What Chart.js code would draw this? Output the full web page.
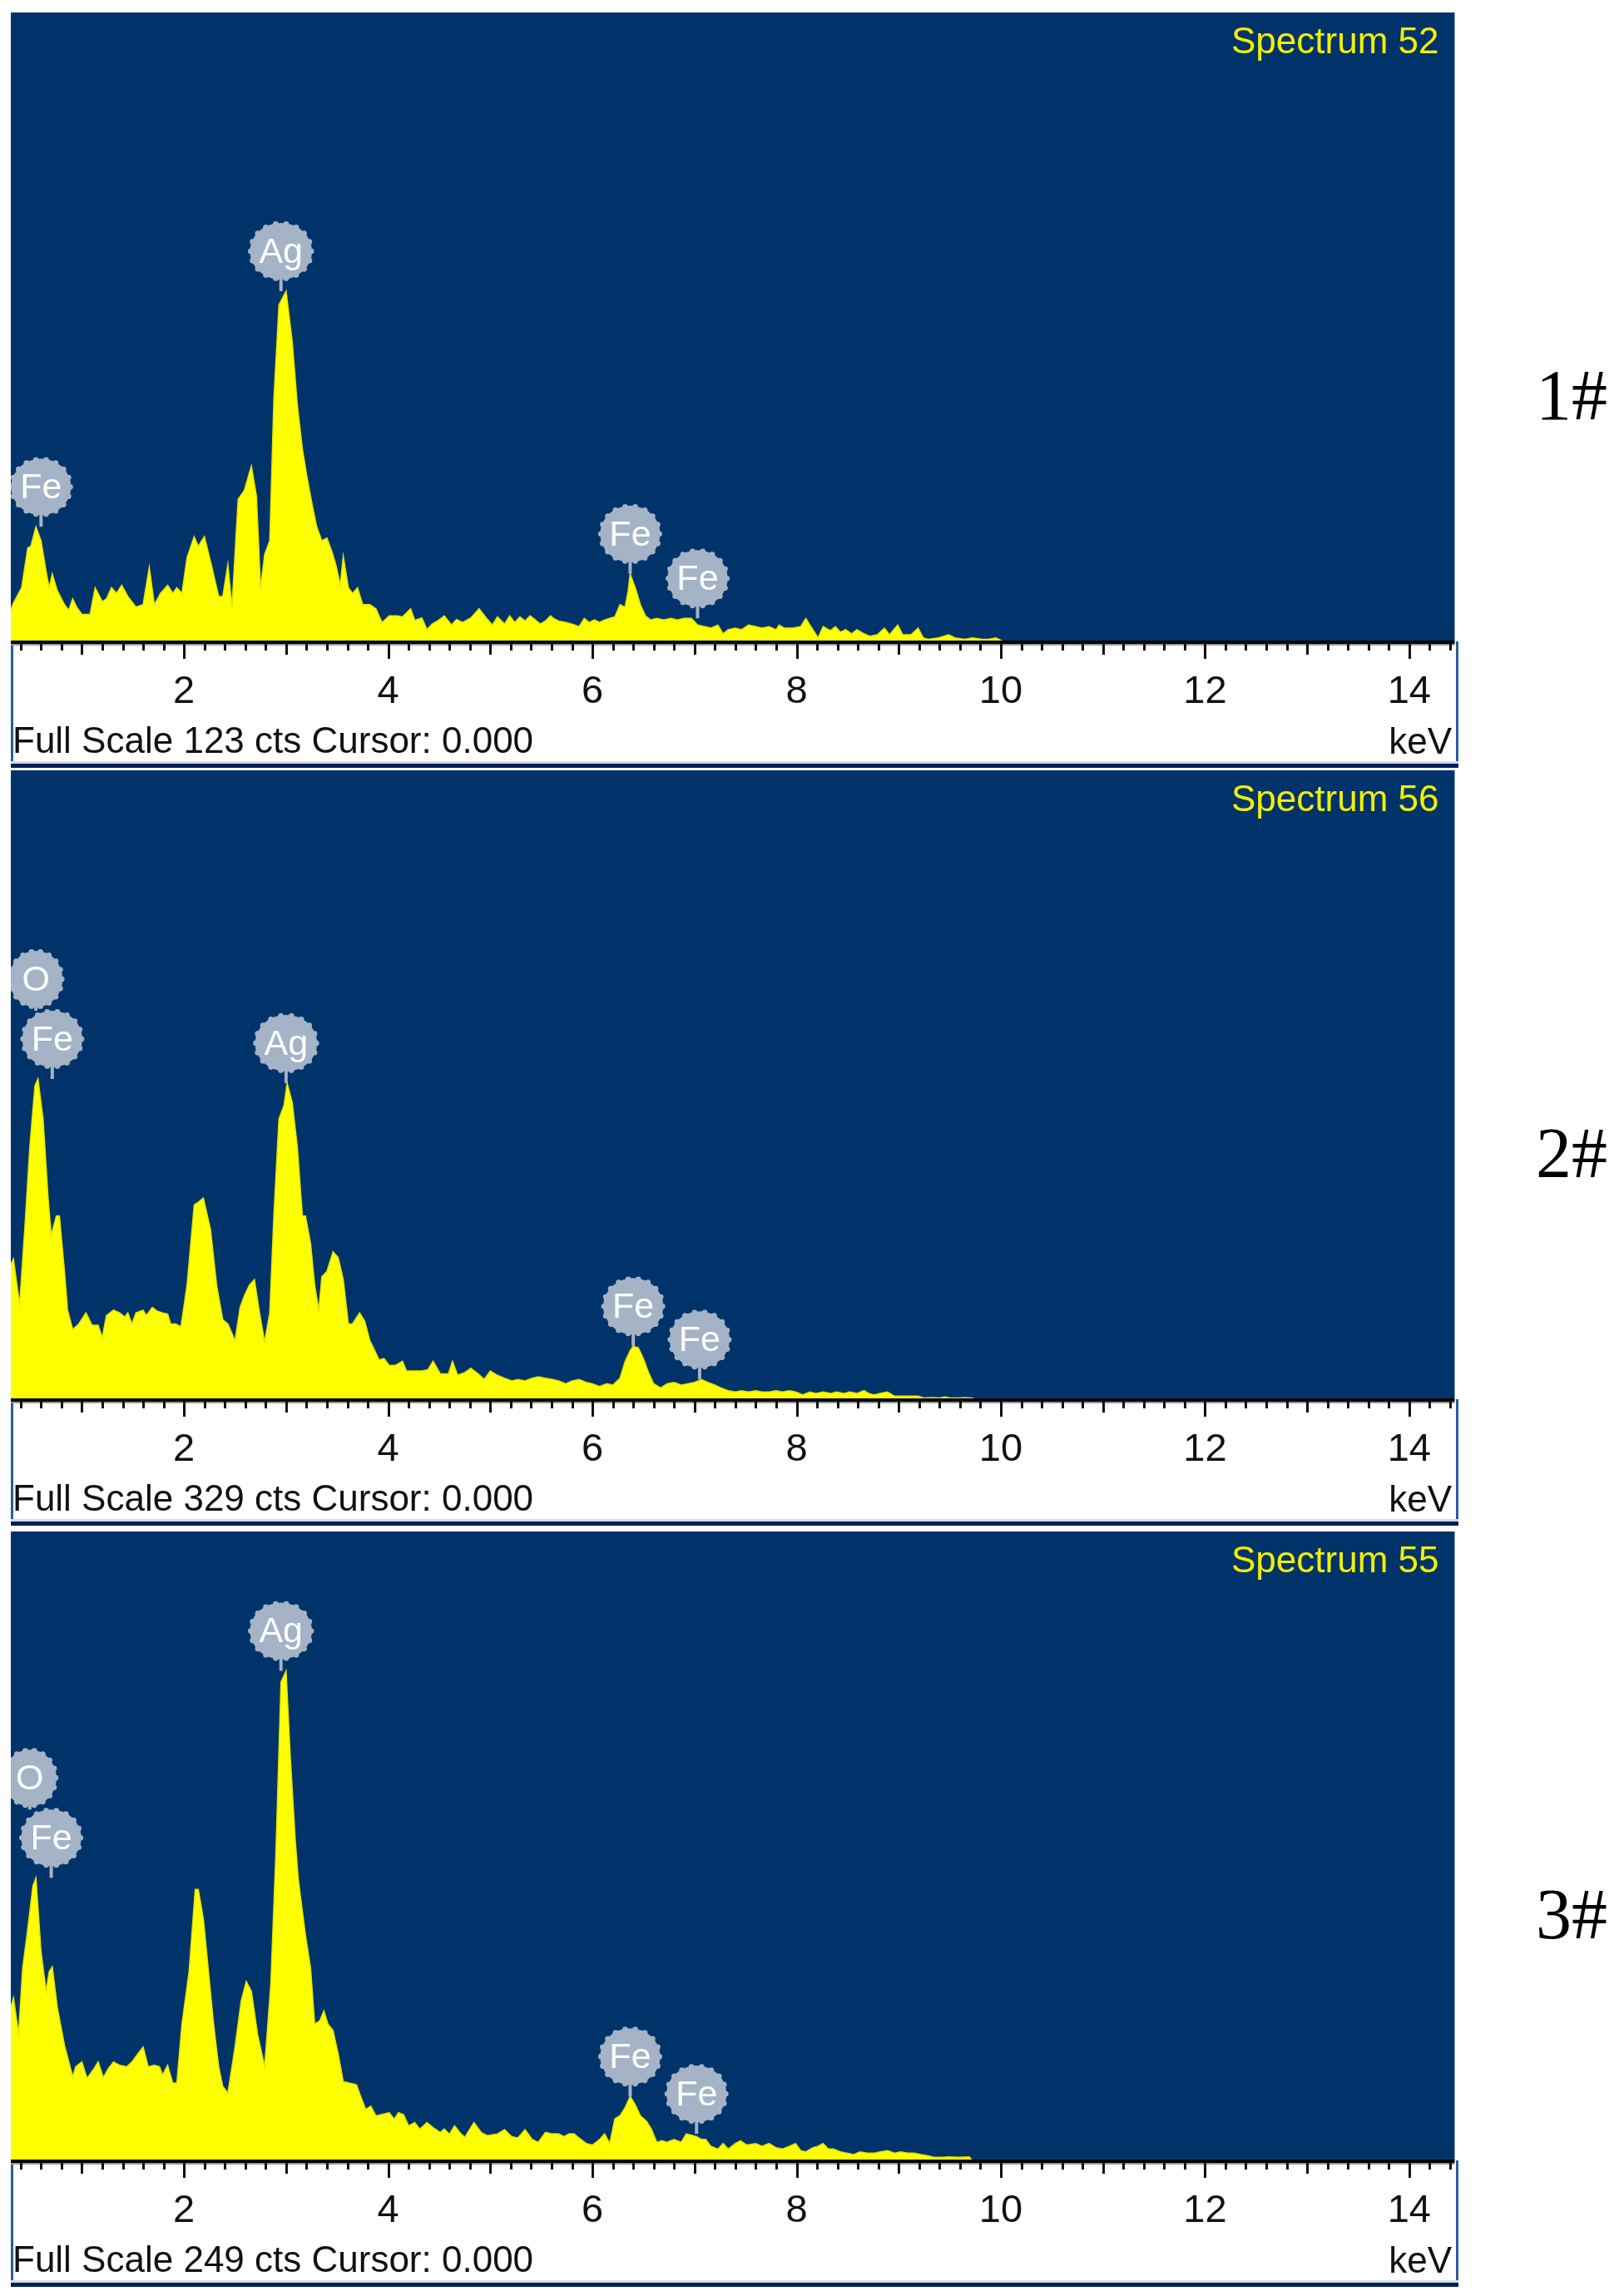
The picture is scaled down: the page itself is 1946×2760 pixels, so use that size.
<!DOCTYPE html>
<html>
<head>
<meta charset="utf-8">
<script src="https://cdn.jsdelivr.net/npm/chart.js@4.4.1/dist/chart.umd.min.js"></script>
<style>
  html, body { margin: 0; padding: 0; background: #ffffff; }
  body { width: 1946px; height: 2760px; position: relative; overflow: hidden; }
  .panel { position: absolute; left: 13px; width: 1740px; height: 908px; }
  .panel canvas { display: block; }
  .tag { position: absolute; left: 1846px; font-family: "Liberation Serif", "Times New Roman", serif; font-size: 86px; line-height: 86px; color: #000; white-space: nowrap; }
</style>
</head>
<body>
<div class="panel" style="top:15px"><canvas id="c1" width="1740" height="908"></canvas></div>
<div class="panel" style="top:926px"><canvas id="c2" width="1740" height="908"></canvas></div>
<div class="panel" style="top:1841px"><canvas id="c3" width="1740" height="908"></canvas></div>
<div class="tag" style="top:432px">1#</div>
<div class="tag" style="top:1343px">2#</div>
<div class="tag" style="top:2258px">3#</div>
<script>
// ---------------- data ----------------
const spectrumNames = ['Spectrum 52', 'Spectrum 56', 'Spectrum 55'];
const fullScaleCounts = [123, 329, 249];
const xTickLabels = [2, 4, 6, 8, 10, 12, 14];
const energyRange = [0.304, 14.445];

const energy52 = [0.30,0.33,0.41,0.47,0.50,0.55,0.60,0.65,0.68,0.71,0.76,0.83,0.87,0.91,0.95,1.00,1.08,1.13,1.20,1.24,1.29,1.34,1.39,1.45,1.53,1.60,1.66,1.71,1.77,1.84,1.89,1.93,1.98,2.03,2.10,2.14,2.20,2.27,2.34,2.38,2.43,2.47,2.53,2.59,2.66,2.71,2.75,2.79,2.84,2.88,2.93,3.00,3.06,3.11,3.16,3.20,3.25,3.30,3.35,3.40,3.45,3.49,3.53,3.56,3.61,3.65,3.70,3.75,3.82,3.88,3.94,4.01,4.09,4.14,4.22,4.26,4.33,4.38,4.43,4.49,4.55,4.62,4.67,4.73,4.81,4.89,4.96,5.02,5.07,5.14,5.19,5.24,5.29,5.34,5.39,5.44,5.49,5.54,5.59,5.62,5.67,5.74,5.80,5.87,5.92,5.97,6.02,6.07,6.12,6.17,6.22,6.27,6.32,6.35,6.37,6.42,6.47,6.52,6.57,6.63,6.70,6.77,6.83,6.90,6.97,7.03,7.10,7.16,7.23,7.28,7.33,7.40,7.46,7.53,7.60,7.66,7.73,7.80,7.83,7.88,7.96,8.04,8.09,8.14,8.21,8.26,8.33,8.38,8.43,8.48,8.54,8.59,8.66,8.72,8.79,8.86,8.91,8.99,9.04,9.12,9.19,9.24,9.29,9.39,9.49,9.55,9.65,9.72,9.82,9.88,9.95,9.98,10.02,14.45];
const counts52 = [6.0,7.5,10.5,18.3,18.6,22.4,19.7,13.7,10.5,13.2,9.9,7.2,6.1,8.3,6.7,5.3,5.3,10.5,7.8,8.3,10.5,9.4,11.0,8.8,6.7,7.2,14.5,7.2,9.4,11.0,9.4,10.5,9.4,16.4,20.5,18.6,20.5,14.8,8.8,8.8,15.1,6.7,27.8,29.5,34.3,28.4,10.5,17.0,19.7,47.3,65.8,68.5,58.7,46.3,37.6,32.7,27.3,22.4,19.7,20.2,17.5,14.8,11.0,16.7,10.5,9.4,10.5,7.2,7.2,6.4,3.7,5.0,5.0,4.8,6.4,4.1,4.6,2.3,3.4,4.1,5.0,3.2,4.3,3.7,4.6,6.4,4.6,3.2,4.8,3.4,5.0,3.7,4.8,4.0,5.0,4.2,3.4,4.0,5.0,4.5,4.0,3.7,3.4,2.9,4.5,3.7,4.2,3.7,4.2,4.5,4.8,7.2,6.7,9.9,13.2,10.5,7.2,5.0,4.2,4.5,4.2,4.5,4.2,4.5,4.5,3.2,2.9,2.6,3.2,1.5,2.3,2.6,2.3,3.2,2.9,2.6,2.9,2.3,3.2,2.6,2.6,2.9,4.5,2.9,0.7,2.9,2.1,2.9,1.8,2.3,1.5,2.3,1.5,1.0,1.3,2.6,1.3,3.2,1.3,1.3,2.6,0.7,0.4,0.7,1.3,0.7,0.4,0.7,0.4,0.4,0.7,0.4,0,0];

const energy56 = [0.30,0.33,0.39,0.44,0.49,0.54,0.57,0.62,0.67,0.70,0.75,0.78,0.83,0.86,0.91,0.97,1.04,1.10,1.16,1.20,1.24,1.31,1.37,1.42,1.45,1.49,1.53,1.60,1.63,1.69,1.74,1.79,1.84,1.87,1.92,1.97,2.03,2.10,2.14,2.19,2.26,2.32,2.38,2.43,2.50,2.55,2.59,2.64,2.69,2.74,2.79,2.84,2.88,2.93,2.98,3.01,3.06,3.11,3.16,3.19,3.24,3.28,3.32,3.35,3.40,3.46,3.51,3.56,3.61,3.65,3.72,3.77,3.82,3.86,3.91,3.96,4.01,4.07,4.14,4.18,4.26,4.33,4.39,4.44,4.51,4.59,4.63,4.68,4.75,4.81,4.88,4.94,5.00,5.07,5.14,5.21,5.27,5.34,5.41,5.47,5.54,5.61,5.67,5.74,5.80,5.87,5.94,6.00,6.07,6.14,6.20,6.27,6.32,6.37,6.40,6.45,6.50,6.55,6.60,6.67,6.73,6.80,6.87,6.93,7.00,7.07,7.13,7.20,7.26,7.33,7.40,7.46,7.53,7.60,7.66,7.73,7.80,7.86,7.93,7.99,8.06,8.13,8.19,8.26,8.33,8.39,8.46,8.52,8.59,8.66,8.71,8.76,8.82,8.89,8.96,9.06,9.19,9.25,9.32,9.39,9.45,9.52,9.59,9.65,9.72,9.75,14.45];
const counts56 = [70.0,73.4,49.5,88.7,132.0,164.0,167.6,146.6,104.6,85.8,95.9,95.9,66.9,46.6,36.5,39.4,45.2,38.7,38.7,32.2,43.8,46.6,45.2,43.0,45.2,39.4,45.2,46.6,43.8,48.1,46.0,45.2,44.5,39.4,39.4,37.9,59.7,101.7,103.1,105.3,88.7,59.7,41.6,39.4,30.7,48.1,53.9,59.7,62.6,45.2,30.0,45.2,95.9,146.6,153.8,165.4,155.3,132.1,95.9,95.9,81.4,59.7,46.6,64.0,66.9,77.1,74.2,62.6,39.4,39.4,45.2,40.9,30.7,26.4,20.6,21.3,17.7,17.7,19.9,14.8,14.8,14.8,15.5,19.9,13.3,13.3,19.9,12.6,14.0,16.2,13.3,10.4,14.8,12.5,11.0,9.6,10.3,9.6,11.0,11.7,11.0,10.3,9.6,8.1,9.6,10.3,8.8,8.1,6.7,8.1,7.4,11.0,19.7,25.5,27.7,26.9,21.2,13.9,8.1,5.9,8.1,8.8,7.4,8.1,8.8,10.3,8.8,7.4,5.9,4.5,3.8,4.5,3.8,4.5,3.8,3.8,4.5,3.8,4.5,3.8,2.3,3.8,3.0,3.8,3.0,3.8,3.0,3.8,3.0,4.5,3.0,2.3,3.0,3.8,1.6,1.6,1.6,0.6,0.9,0.6,1.2,0.6,0.6,0.9,0.6,0,0];

const energy55 = [0.30,0.33,0.38,0.42,0.47,0.52,0.55,0.60,0.65,0.68,0.71,0.76,0.83,0.91,0.94,1.00,1.05,1.12,1.16,1.21,1.26,1.31,1.37,1.44,1.49,1.55,1.60,1.65,1.71,1.76,1.79,1.84,1.89,1.93,1.98,2.05,2.11,2.14,2.19,2.24,2.29,2.34,2.38,2.43,2.50,2.56,2.61,2.66,2.72,2.79,2.85,2.90,2.95,3.00,3.04,3.09,3.12,3.19,3.24,3.28,3.33,3.37,3.41,3.46,3.51,3.56,3.62,3.69,3.73,3.78,3.83,3.88,3.94,4.01,4.06,4.10,4.15,4.20,4.26,4.31,4.38,4.44,4.51,4.55,4.60,4.65,4.70,4.75,4.80,4.84,4.91,4.97,5.07,5.14,5.21,5.27,5.34,5.41,5.47,5.54,5.61,5.67,5.72,5.77,5.82,5.87,5.94,6.00,6.07,6.12,6.17,6.22,6.27,6.32,6.37,6.42,6.47,6.53,6.58,6.63,6.68,6.73,6.80,6.87,6.92,6.97,7.02,7.07,7.11,7.16,7.23,7.28,7.33,7.40,7.45,7.51,7.60,7.66,7.73,7.80,7.86,7.93,7.99,8.04,8.09,8.16,8.21,8.26,8.31,8.36,8.43,8.49,8.56,8.62,8.69,8.76,8.82,8.89,8.96,9.02,9.09,9.15,9.22,9.29,9.35,9.42,9.49,9.59,9.69,9.72,14.45];
const counts55 = [60.0,64.4,50.1,76.1,91.7,108.6,111.9,82.6,67.0,74.8,76.7,60.5,45.5,33.2,37.1,39.0,32.5,36.4,39.0,32.8,36.4,39.0,37.7,37.1,39.0,42.3,44.9,37.1,37.7,37.1,33.8,37.7,30.6,30.6,54.0,74.8,107.3,107.3,95.6,74.8,54.0,37.1,29.3,26.7,44.9,63.1,70.9,67.0,50.1,37.1,69.6,121.6,189.3,193.8,160.7,126.8,111.2,89.1,76.1,54.0,55.3,59.2,54.0,51.4,42.3,31.2,30.6,29.9,25.4,20.2,21.5,17.6,18.2,18.9,16.3,18.9,18.2,13.7,15.0,12.4,15.0,13.0,11.1,12.4,10.4,13.7,11.1,9.1,12.4,15.0,11.1,9.8,10.5,12.2,9.4,8.9,12.2,8.3,7.2,11.1,10.5,10.5,9.4,10.5,10.5,8.9,6.7,6.1,8.3,10.5,6.7,16.5,17.7,20.9,25.3,22.0,17.7,15.5,12.2,7.2,7.8,7.2,8.3,7.2,10.5,10.0,9.4,8.3,8.3,5.6,4.5,6.7,4.5,6.7,7.8,6.1,6.7,5.6,6.7,5.0,4.5,5.6,6.7,3.9,3.4,5.0,5.6,6.7,4.5,4.5,3.4,2.9,2.3,3.4,2.9,2.9,3.4,3.9,2.9,3.4,2.9,2.9,2.3,1.8,1.2,1.2,1.4,1.2,1.4,0,0];

// element markers: label, energy (keV); "above" = stacked over another marker index
const markers52 = [
  { el: 'Fe', keV: 0.60 },
  { el: 'Ag', keV: 2.95 },
  { el: 'Fe', keV: 6.37 },
  { el: 'Fe', keV: 7.03 }
];
const markers56 = [
  { el: 'Fe', keV: 0.71 },
  { el: 'O',  keV: 0.55, above: 0 },
  { el: 'Ag', keV: 3.00 },
  { el: 'Fe', keV: 6.40 },
  { el: 'Fe', keV: 7.05 }
];
const markers55 = [
  { el: 'Fe', keV: 0.70 },
  { el: 'O',  keV: 0.49, above: 0 },
  { el: 'Ag', keV: 2.95 },
  { el: 'Fe', keV: 6.37 },
  { el: 'Fe', keV: 7.02 }
];

// ---------------- styling ----------------
const NAVY = '#01336b';
const YELLOW = '#ffff00';
const MARK = '#a4b3c6';
const SANS = '"Liberation Sans", Arial, Helvetica, sans-serif';
const minorTickStep = 0.2;
const BLOB_RY = 34;

function peakCount(energies, counts, e) {
  let m = 0;
  for (let i = 0; i < energies.length; i++) {
    if (Math.abs(energies[i] - e) <= 0.15 && counts[i] > m) m = counts[i];
  }
  return m;
}

function drawBlob(ctx, cx, cy, text) {
  ctx.font = '43px ' + SANS;
  const tw = ctx.measureText(text).width;
  const rx = Math.max(32, tw / 2 + 11), ry = BLOB_RY;
  ctx.fillStyle = MARK;
  ctx.beginPath();
  ctx.ellipse(cx, cy, rx, ry, 0, 0, Math.PI * 2);
  ctx.fill();
  for (let k = 0; k < 18; k++) {
    const t = k / 18 * Math.PI * 2;
    ctx.beginPath();
    ctx.arc(cx + Math.cos(t) * (rx - 1), cy + Math.sin(t) * (ry - 1), 3.4, 0, Math.PI * 2);
    ctx.fill();
  }
  ctx.fillStyle = '#ffffff';
  ctx.textAlign = 'center';
  ctx.textBaseline = 'middle';
  ctx.fillText(text, cx, cy + 2);
}

const panelPlugin = {
  id: 'edsPanel',
  beforeDraw(chart) {
    const { ctx, chartArea: a, width, height } = chart;
    ctx.save();
    ctx.fillStyle = '#ffffff';
    ctx.fillRect(0, 0, width, height);
    ctx.fillStyle = NAVY;
    ctx.fillRect(a.left, a.top, a.right - a.left, a.bottom - a.top);
    ctx.fillStyle = '#2a5d9a';
    ctx.fillRect(0, a.bottom, 3, height - a.bottom);
    ctx.fillRect(width - 3, a.bottom, 3, height - a.bottom);
    ctx.fillStyle = '#d3dae6';
    ctx.fillRect(0, height - 8, width, 3);
    ctx.fillStyle = '#001f5b';
    ctx.fillRect(0, height - 5, width, 5);
    ctx.restore();
  },
  afterDatasetsDraw(chart, args, opts) {
    const { ctx, chartArea: a } = chart;
    const xs = chart.scales.x, ys = chart.scales.y;
    ctx.save();
    ctx.fillStyle = '#000000';
    ctx.fillRect(a.left, a.bottom - 1, a.right - a.left, 4);
    ctx.fillStyle = '#9a9a9a';
    ctx.fillRect(a.left, a.bottom + 3, a.right - a.left, 2);
    ctx.fillStyle = '#111111';
    const nMax = Math.floor(xs.max / minorTickStep);
    for (let k = 1; k <= nMax; k++) {
      const v = k * minorTickStep;
      if (v < xs.min) continue;
      const px = Math.round(xs.getPixelForValue(v));
      const len = (k % 10 === 0) ? 19 : (k % 5 === 0) ? 14 : 9;
      ctx.fillRect(px - 1, a.bottom + 2, 3, len);
    }
    ctx.beginPath();
    ctx.rect(a.left, a.top, a.right - a.left, a.bottom - a.top);
    ctx.clip();
    const centres = [];
    opts.markers.forEach((m, i) => {
      const cx = xs.getPixelForValue(m.keV);
      let cy, stemTo;
      if (m.above !== undefined) {
        const base = centres[m.above];
        cy = base.cy - 72;
        stemTo = base.cy - BLOB_RY;
      } else {
        const py = ys.getPixelForValue(peakCount(opts.energies, opts.counts, m.keV));
        cy = py - 48;
        stemTo = py;
      }
      ctx.strokeStyle = MARK;
      ctx.lineWidth = 4;
      ctx.beginPath();
      ctx.moveTo(cx, cy + 20);
      ctx.lineTo(cx, stemTo);
      ctx.stroke();
      centres[i] = { cx, cy };
    });
    opts.markers.forEach((m, i) => drawBlob(ctx, centres[i].cx, centres[i].cy, m.el));
    ctx.restore();

    ctx.save();
    ctx.font = '44px ' + SANS;
    ctx.textBaseline = 'alphabetic';
    ctx.fillStyle = '#f0f000';
    ctx.textAlign = 'right';
    ctx.fillText(opts.name, a.right - 19, a.top + 49);
    ctx.fillStyle = '#111111';
    ctx.textAlign = 'left';
    ctx.fillText('Full Scale ' + opts.fullScale + ' cts Cursor: 0.000', 2, chart.height - 18);
    ctx.textAlign = 'right';
    ctx.fillText('keV', chart.width - 8, chart.height - 17);
    ctx.restore();
  }
};

function makeChart(id, energies, counts, fullScale, name, markers) {
  const pts = energies.map((e, i) => ({ x: e, y: counts[i] }));
  return new Chart(document.getElementById(id), {
    type: 'line',
    data: {
      datasets: [{
        data: pts,
        borderColor: '#e4e400',
        borderWidth: 1.5,
        backgroundColor: YELLOW,
        fill: 'origin',
        pointRadius: 0,
        tension: 0
      }]
    },
    options: {
      responsive: false,
      animation: false,
      events: [],
      layout: { padding: 0 },
      scales: {
        x: {
          type: 'linear',
          min: energyRange[0],
          max: energyRange[1],
          afterBuildTicks: s => { s.ticks = xTickLabels.map(v => ({ value: v })); },
          afterFit: s => { s.height = 152; },
          grid: { display: false, drawTicks: false },
          border: { display: false },
          ticks: {
            color: '#111111',
            font: { family: SANS, size: 47 },
            padding: 33,
            maxRotation: 0,
            autoSkip: false,
            callback: v => String(v)
          }
        },
        y: { display: false, min: 0, max: fullScale }
      },
      plugins: {
        legend: { display: false },
        tooltip: { enabled: false },
        edsPanel: { energies, counts, fullScale, name, markers }
      }
    },
    plugins: [panelPlugin]
  });
}

makeChart('c1', energy52, counts52, fullScaleCounts[0], spectrumNames[0], markers52);
makeChart('c2', energy56, counts56, fullScaleCounts[1], spectrumNames[1], markers56);
makeChart('c3', energy55, counts55, fullScaleCounts[2], spectrumNames[2], markers55);
</script>
</body>
</html>
